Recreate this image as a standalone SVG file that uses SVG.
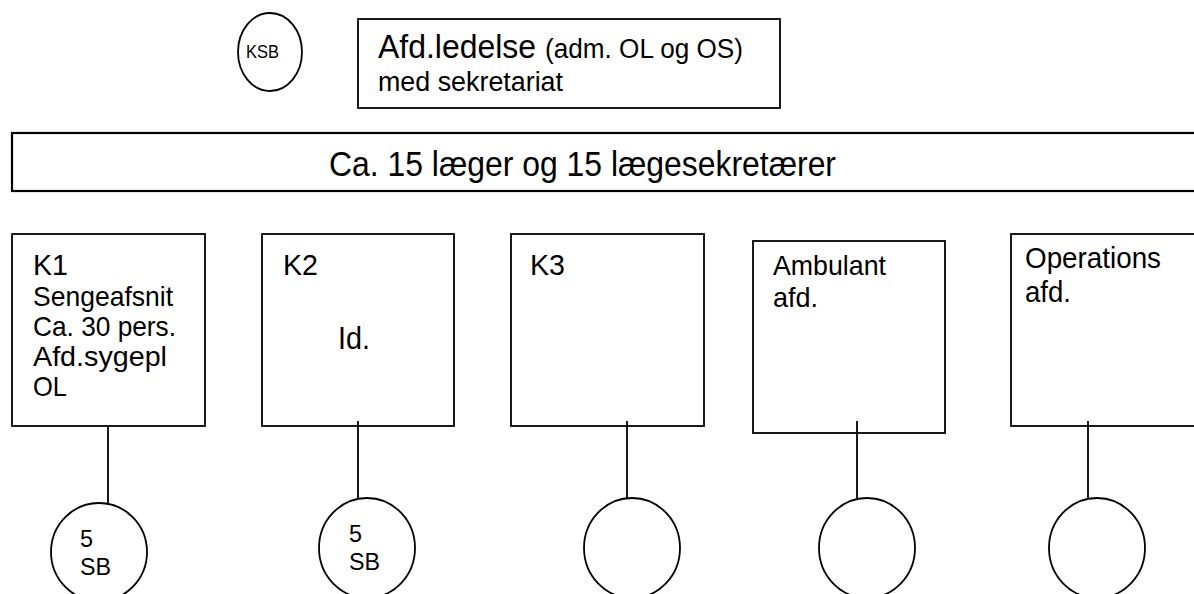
<svg xmlns="http://www.w3.org/2000/svg" width="1194" height="594" viewBox="0 0 1194 594">
<style>
.box{fill:#fff;stroke:#000;stroke-width:1.8}
.ell{fill:#fff;stroke:#000;stroke-width:1.8}
.t{font-family:"Liberation Sans",Arial,sans-serif;fill:#000}
.conn line{stroke:#000;stroke-width:1.8}
</style>
<rect width="1194" height="594" fill="#fff"/>
<g id="ksb"><ellipse class="ell" cx="270" cy="52" rx="32" ry="39"/><text class="t" x="246" y="58" font-size="19" textLength="33" lengthAdjust="spacingAndGlyphs">KSB</text></g>
<g id="afdledelse"><rect class="box" x="358" y="19" width="422" height="89"/>
<text class="t" x="378" y="58" font-size="34" textLength="158" lengthAdjust="spacingAndGlyphs">Afd.ledelse</text>
<text class="t" x="545" y="58" font-size="27" textLength="198" lengthAdjust="spacingAndGlyphs">(adm. OL og OS)</text>
<text class="t" x="378" y="91" font-size="27" textLength="185" lengthAdjust="spacingAndGlyphs">med sekretariat</text></g>
<g id="laeger"><rect class="box" style="stroke-width:2.2" x="12" y="133" width="1200" height="58"/>
<text class="t" x="329" y="176" font-size="35" textLength="507" lengthAdjust="spacingAndGlyphs">Ca. 15 læger og 15 lægesekretærer</text></g>
<g id="k1"><rect class="box" x="12" y="234" width="193" height="192"/>
<text class="t" x="33" y="275" font-size="30" textLength="35" lengthAdjust="spacingAndGlyphs">K1</text>
<text class="t" x="33" y="306" font-size="28" textLength="140" lengthAdjust="spacingAndGlyphs">Sengeafsnit</text>
<text class="t" x="33" y="336" font-size="28" textLength="143" lengthAdjust="spacingAndGlyphs">Ca. 30 pers.</text>
<text class="t" x="33" y="366" font-size="28" textLength="134" lengthAdjust="spacingAndGlyphs">Afd.sygepl</text>
<text class="t" x="33" y="396" font-size="28" textLength="34" lengthAdjust="spacingAndGlyphs">OL</text></g>
<g id="k2"><rect class="box" x="262" y="234" width="192" height="192"/>
<text class="t" x="283" y="275" font-size="30" textLength="35" lengthAdjust="spacingAndGlyphs">K2</text>
<text class="t" x="338" y="349" font-size="31" textLength="32" lengthAdjust="spacingAndGlyphs">Id.</text></g>
<g id="k3"><rect class="box" x="511" y="234" width="193" height="192"/>
<text class="t" x="530" y="275" font-size="30" textLength="35" lengthAdjust="spacingAndGlyphs">K3</text></g>
<g id="ambulant"><rect class="box" x="753" y="241" width="192" height="192"/>
<text class="t" x="773" y="275" font-size="28" textLength="113" lengthAdjust="spacingAndGlyphs">Ambulant</text>
<text class="t" x="773" y="307" font-size="28" textLength="45" lengthAdjust="spacingAndGlyphs">afd.</text></g>
<g id="operations"><rect class="box" x="1011" y="234" width="200" height="192"/>
<text class="t" x="1025" y="268" font-size="29" textLength="136" lengthAdjust="spacingAndGlyphs">Operations</text>
<text class="t" x="1025" y="302" font-size="29" textLength="46" lengthAdjust="spacingAndGlyphs">afd.</text></g>
<g id="connectors" class="conn">
<line x1="108" y1="426" x2="108" y2="503"/>
<line x1="358" y1="421" x2="358" y2="498"/>
<line x1="627" y1="421" x2="627" y2="498"/>
<line x1="857" y1="421" x2="857" y2="498"/>
<line x1="1088" y1="421" x2="1088" y2="498"/>
</g>
<g id="sb1"><ellipse class="ell" cx="99" cy="552" rx="48" ry="49"/>
<text class="t" x="80" y="547" font-size="24" textLength="13" lengthAdjust="spacingAndGlyphs">5</text><text class="t" x="80" y="575" font-size="24" textLength="31" lengthAdjust="spacingAndGlyphs">SB</text></g>
<g id="sb2"><ellipse class="ell" cx="367" cy="548" rx="48" ry="50"/>
<text class="t" x="349" y="542" font-size="24" textLength="13" lengthAdjust="spacingAndGlyphs">5</text><text class="t" x="349" y="570" font-size="24" textLength="31" lengthAdjust="spacingAndGlyphs">SB</text></g>
<g id="c3"><ellipse class="ell" cx="632" cy="548" rx="48" ry="50"/></g>
<g id="c4"><ellipse class="ell" cx="867" cy="548" rx="48" ry="50"/></g>
<g id="c5"><ellipse class="ell" cx="1097" cy="548" rx="48" ry="50"/></g>
</svg>
